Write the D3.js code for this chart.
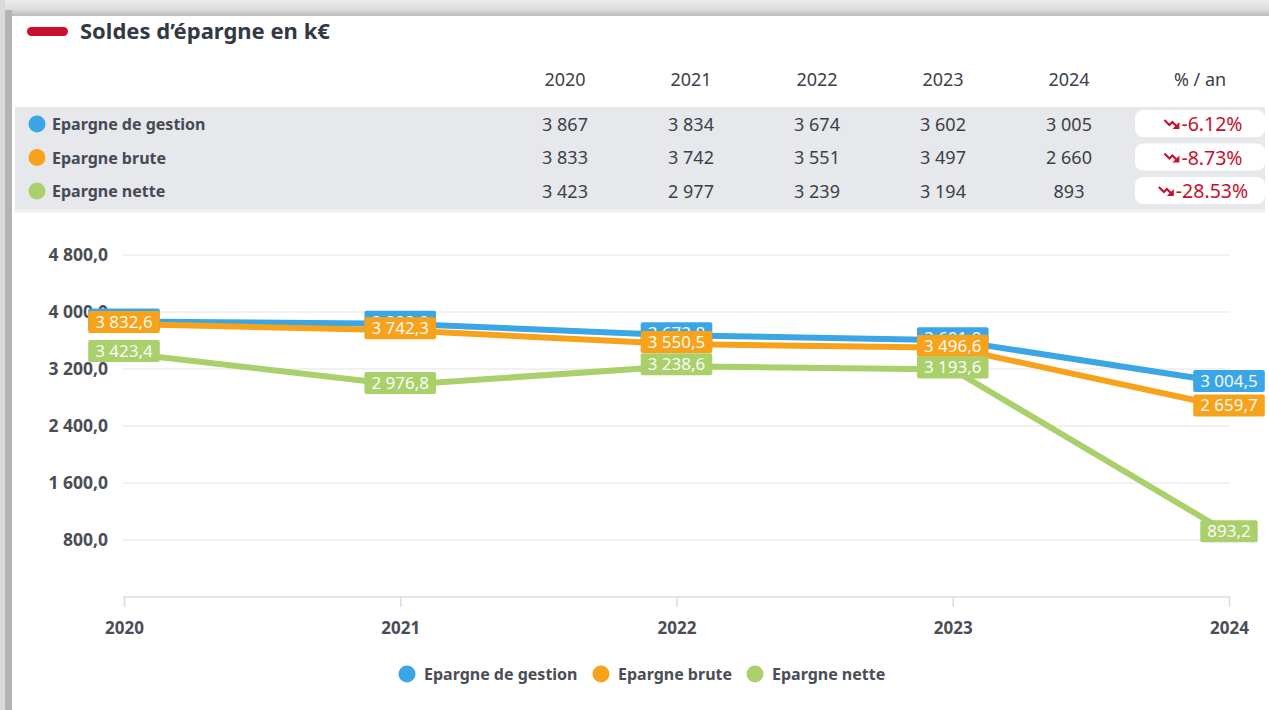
<!DOCTYPE html>
<html>
<head>
<meta charset="utf-8">
<script src="https://cdn.jsdelivr.net/npm/d3@7"></script>
<style>
  html, body { margin: 0; padding: 0; background: #fff; }
  svg { display: block; font-family: "Noto Sans", "Open Sans", sans-serif; }
</style>
</head>
<body>
<svg id="chart" width="1269" height="710"></svg>
<script>
// ---- data ----
const years = [2020, 2021, 2022, 2023, 2024];
const seriesNames = ['Epargne de gestion', 'Epargne brute', 'Epargne nette'];
const seriesColors = ['#3ba6e6', '#f7a21b', '#aad06c'];
const gestion = [3867.0, 3833.9, 3673.8, 3601.9, 3004.5];
const brute = [3832.6, 3742.3, 3550.5, 3496.6, 2659.7];
const nette = [3423.4, 2976.8, 3238.6, 3193.6, 893.2];
const tableGestion = ['3 867', '3 834', '3 674', '3 602', '3 005'];
const tableBrute = ['3 833', '3 742', '3 551', '3 497', '2 660'];
const tableNette = ['3 423', '2 977', '3 239', '3 194', '893'];
const trends = ['-6.12%', '-8.73%', '-28.53%'];
const yTicks = [800, 1600, 2400, 3200, 4000, 4800];

const values = [gestion, brute, nette];
const tableRows = [tableGestion, tableBrute, tableNette];

const svg = d3.select('#chart');
const textColor = '#3c4048';
const axisColor = '#4a4d55';

// ---- frame (screenshot border) ----
const topGrad = svg.append('defs').append('linearGradient')
    .attr('id', 'topgrad').attr('x1', 0).attr('x2', 0).attr('y1', 0).attr('y2', 1);
topGrad.append('stop').attr('offset', '0%').attr('stop-color', '#ececec');
topGrad.append('stop').attr('offset', '60%').attr('stop-color', '#dcdcdc');
topGrad.append('stop').attr('offset', '100%').attr('stop-color', '#b9b9b9');
svg.append('rect').attr('x', 0).attr('y', 0).attr('width', 1269).attr('height', 16).attr('fill', 'url(#topgrad)');
svg.append('rect').attr('x', 0).attr('y', 0).attr('width', 5).attr('height', 710).attr('fill', '#dadada');
svg.append('rect').attr('x', 5).attr('y', 10).attr('width', 7).attr('height', 700).attr('fill', '#b4b4b4');

// ---- title ----
svg.append('rect').attr('x', 27).attr('y', 27).attr('width', 41).attr('height', 9).attr('rx', 4.5)
    .attr('fill', '#c8102e');
svg.append('text').attr('x', 80).attr('y', 39).attr('font-size', 22).attr('font-weight', 700)
    .attr('fill', '#323844').text('Soldes d\u2019épargne en k€');

// ---- table ----
const colX = d3.scalePoint().domain(years).range([565, 1069]);
const rowY = d3.scalePoint().domain(seriesNames).range([124, 191]);

svg.append('g').selectAll('text').data(years).join('text')
    .attr('x', d => colX(d)).attr('y', 86).attr('text-anchor', 'middle')
    .attr('font-size', 18).attr('fill', textColor).text(d => d);
svg.append('text').attr('x', 1200).attr('y', 86).attr('text-anchor', 'middle')
    .attr('font-size', 18).attr('fill', textColor).text('% / an');

svg.append('rect').attr('x', 15).attr('y', 107).attr('width', 1250).attr('height', 104)
    .attr('fill', '#e7e8ec');
svg.append('rect').attr('x', 15).attr('y', 210).attr('width', 1250).attr('height', 3)
    .attr('fill', '#f1f2f4');

const rows = svg.append('g').selectAll('g').data(seriesNames).join('g')
    .attr('transform', d => `translate(0,${rowY(d)})`);
rows.append('circle').attr('cx', 37).attr('cy', 0).attr('r', 8.5)
    .attr('fill', (d, i) => seriesColors[i]);
rows.append('text').attr('x', 52).attr('y', 6).attr('font-size', 16).attr('font-weight', 700)
    .attr('fill', '#454a55').text(d => d);
rows.each(function (d, i) {
    d3.select(this).selectAll('text.num').data(tableRows[i]).join('text')
        .attr('class', 'num')
        .attr('x', (v, j) => colX(years[j])).attr('y', 6.5).attr('text-anchor', 'middle')
        .attr('font-size', 18).attr('fill', textColor).text(v => v);
});
rows.append('rect').attr('x', 1135).attr('y', -14).attr('width', 130).attr('height', 27).attr('rx', 8)
    .attr('fill', '#fff');
const badge = rows.append('g');
badge.append('text').attr('x', 1212).attr('y', 7).attr('text-anchor', 'middle')
    .attr('font-size', 19.5).attr('fill', '#c8102e').text((d, i) => trends[i]);
badge.each(function () {
    const g = d3.select(this);
    const bb = g.select('text').node().getBBox();
    const ix = bb.x - 17;
    g.append('path')
        .attr('d', `M${ix},-4 L${ix + 5},1 L${ix + 8},-2 L${ix + 13},3`)
        .attr('fill', 'none').attr('stroke', '#c8102e').attr('stroke-width', 2.2);
    g.append('path')
        .attr('d', `M${ix + 15},5 L${ix + 15},-2 L${ix + 8},5 Z`)
        .attr('fill', '#c8102e');
});

// ---- chart ----
const x = d3.scalePoint().domain(years).range([124, 1229]);
const y = d3.scaleLinear().domain([0, 4800]).range([597, 255]);
const fmt = d3.formatLocale({ decimal: ',', thousands: ' ', grouping: [3], currency: ['', ''] });
const f1 = fmt.format(',.1f');

// grid
svg.append('g').selectAll('line').data(yTicks).join('line')
    .attr('x1', 123).attr('x2', 1230)
    .attr('y1', d => y(d)).attr('y2', d => y(d))
    .attr('stroke', '#e4e4e4').attr('stroke-width', 1.2);

// y axis labels
const yAxis = d3.axisLeft(y).tickValues(yTicks).tickSize(0).tickPadding(0).tickFormat(f1);
svg.append('g').attr('transform', 'translate(108,0)').call(yAxis)
    .call(g => g.select('.domain').remove())
    .call(g => g.selectAll('text').attr('font-size', 17.5).attr('font-weight', 700)
        .attr('fill', axisColor).attr('font-family', '"Noto Sans", sans-serif'));

// x axis
const xAxis = d3.axisBottom(x).tickSize(10).tickSizeOuter(0).tickPadding(15);
svg.append('g').attr('transform', `translate(0,${y(0)})`).call(xAxis)
    .call(g => g.select('.domain').attr('stroke', '#dcdcdc').attr('stroke-width', 1.5)
        .attr('d', 'M123,0H1230'))
    .call(g => g.selectAll('line').attr('stroke', '#dcdcdc').attr('stroke-width', 1.5))
    .call(g => g.selectAll('text').attr('font-size', 17).attr('font-weight', 700)
        .attr('fill', axisColor).attr('font-family', '"Noto Sans", sans-serif'));

// lines
const line = d3.line().x((d, i) => x(years[i])).y(d => y(d));
svg.append('g').selectAll('path').data(values).join('path')
    .attr('d', line).attr('fill', 'none')
    .attr('stroke', (d, i) => seriesColors[i]).attr('stroke-width', 6)
    .attr('stroke-linejoin', 'round');

// data labels (blue ones mostly hidden under the orange ones, as in the source)
const labels = svg.append('g');
values.forEach((vals, si) => {
    vals.forEach((v, j) => {
        const g = labels.append('g').attr('transform', `translate(${x(years[j])},${y(v) - 2})`);
        const t = g.append('text').attr('text-anchor', 'middle').attr('y', 6)
            .attr('font-size', 17).attr('fill', '#fff').attr('opacity', 0.95)
            .text(f1(v));
        const w = t.node().getComputedTextLength() + 14;
        g.insert('rect', 'text').attr('x', -w / 2).attr('y', -11).attr('width', w).attr('height', 22)
            .attr('rx', 2).attr('fill', seriesColors[si]);
    });
});

// legend
const legendX = [407, 601, 755];
const legend = svg.append('g').selectAll('g').data(seriesNames).join('g')
    .attr('transform', (d, i) => `translate(${legendX[i]},674)`);
legend.append('circle').attr('r', 8.5).attr('fill', (d, i) => seriesColors[i]);
legend.append('text').attr('x', 17).attr('y', 5.5).attr('font-size', 16).attr('font-weight', 700)
    .attr('fill', axisColor).text(d => d);
</script>
</body>
</html>
